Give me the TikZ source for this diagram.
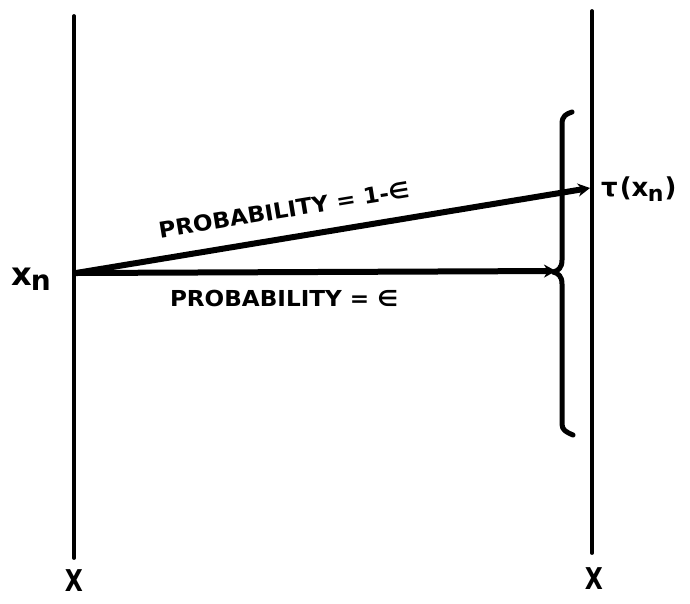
\documentclass[tikz,border=0pt]{standalone}
\usepackage{fontspec}
\setmainfont{DejaVu Sans}
\usetikzlibrary{arrows.meta}
\tikzset{
  axisline/.style={line width=3.8pt, line cap=round},
  ray/.style={line width=6pt, -{Stealth[length=12pt,width=13pt]}},
  brace/.style={line width=5pt, line cap=round, line join=round},
  lbl/.style={font=\fontsize{22}{23}\selectfont\bfseries, inner sep=0pt},
  biglbl/.style={font=\fontsize{30}{32}\selectfont\bfseries, inner sep=0pt, xscale=0.78}
}
\begin{document}
\begin{tikzpicture}[x=1pt,y=-1pt]
\useasboundingbox (0,0) rectangle (690,603);
% vertical lines
\coordinate (Ltop) at (74,16);
\coordinate (Lbot) at (74,558);
\coordinate (Rtop) at (592,11);
\coordinate (Rbot) at (592,553);
\draw[axisline] (Ltop) -- (Lbot);
\draw[axisline] (Rtop) -- (Rbot);
\node[biglbl] (XL) at (74,581) {X};
\node[biglbl] (XR) at (594,579) {X};
% origin and tips
\coordinate (O) at (76,273);
\coordinate (T1) at (590,188);
\coordinate (T2) at (556,271);
\node[font=\fontsize{32}{34}\selectfont\bfseries, inner sep=0pt, anchor=west] (xn) at (11,279) {x\kern-1pt\raisebox{-0.3ex}{\fontsize{28}{30}\selectfont n}};
\node[font=\fontsize{26}{28}\selectfont\bfseries, inner sep=0pt, anchor=west] (tau) at (601,189) {τ\kern2pt(x\kern-0.5pt\raisebox{-0.3ex}{\fontsize{22}{23}\selectfont n}\kern1pt)};
% bracket
\draw[brace] (572,112) .. controls (566,114) and (562,116) .. (562,124)
  -- (562,260) .. controls (562,268) and (558,271) .. (553,272)
  .. controls (558,273) and (562,276) .. (562,284)
  -- (562,424) .. controls (562,430) and (566,432) .. (573,435);
% rays
\draw[ray] (O) -- (T1);
\draw[ray] (O) -- (T2);
\node[lbl, rotate=9.3, xscale=1.05] (p1) at (284,210) {PROBABILITY = 1-∈};
\node[lbl, xscale=1.05] (p2) at (284,298) {PROBABILITY = ∈};
\end{tikzpicture}
\end{document}
